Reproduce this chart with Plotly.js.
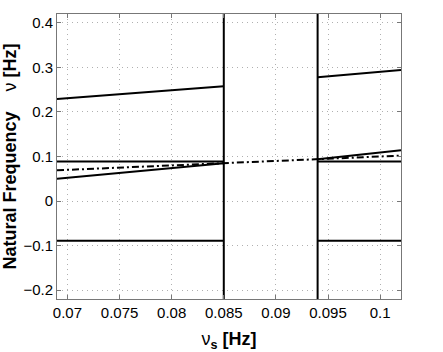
<!DOCTYPE html>
<html>
<head>
<meta charset="utf-8">
<script src="https://cdn.plot.ly/plotly-3.0.1.min.js"></script>
<style>
  html, body { margin: 0; padding: 0; background: #fff; }
  #graph { width: 443px; height: 352px; }
</style>
</head>
<body>
<div id="graph"></div>
<script>
'use strict';

// forcing frequency ranges on each side of the gap
var nuLeft = [0.069, 0.085];
var nuRight = [0.094, 0.102];
var nuAll = [0.069, 0.102];

// natural frequency branches [Hz]
var upperLeft = [0.229, 0.258];
var upperRight = [0.278, 0.294];
var flatPosLeft = [0.089, 0.089];
var flatPosRight = [0.089, 0.089];
var lowerLeft = [0.050, 0.085];
var risingRight = [0.094, 0.114];
var flatNegLeft = [-0.089, -0.089];
var flatNegRight = [-0.089, -0.089];
var diagonal = [0.069, 0.102];

// boundaries of the gap
var gapEdges = [0.085, 0.094];
var yLimits = [-0.22, 0.42];

var solid = {color: 'black', width: 2};

function seg(x, y) {
    return {x: x, y: y, mode: 'lines', type: 'scatter', line: solid, hoverinfo: 'skip'};
}

var data = [
    seg(nuLeft, upperLeft),
    seg(nuRight, upperRight),
    seg(nuLeft, flatPosLeft),
    seg(nuRight, flatPosRight),
    seg(nuLeft, lowerLeft),
    seg(nuRight, risingRight),
    seg(nuLeft, flatNegLeft),
    seg(nuRight, flatNegRight),
    seg([gapEdges[0], gapEdges[0]], yLimits),
    seg([gapEdges[1], gapEdges[1]], yLimits),
    {x: nuAll, y: diagonal, mode: 'lines', type: 'scatter',
     line: {color: 'black', width: 2, dash: '7px,3px,2px,3px'}, hoverinfo: 'skip'}
];

var font = 'Liberation Sans, Arial, sans-serif';

var axisCommon = {
    showline: true,
    linecolor: '#777',
    linewidth: 1,
    mirror: 'ticks',
    ticks: 'inside',
    ticklen: 4,
    tickcolor: '#777',
    showgrid: true,
    gridcolor: '#b0b0b0',
    griddash: '1px,4px',
    gridwidth: 1,
    zeroline: false,
    tickfont: {family: font, size: 15, color: 'black'}
};

var layout = {
    width: 443,
    height: 352,
    showlegend: false,
    paper_bgcolor: 'white',
    plot_bgcolor: 'white',
    margin: {l: 57, r: 42, t: 14, b: 53},
    xaxis: Object.assign({}, axisCommon, {
        range: [0.069, 0.102],
        tickvals: [0.07, 0.075, 0.08, 0.085, 0.09, 0.095, 0.1],
        ticktext: ['0.07', '0.075', '0.08', '0.085', '0.09', '0.095', '0.1'],
        title: {text: 'ν<sub><b>s</b></sub> <b>[Hz]</b>', standoff: 12,
                font: {family: font, size: 18, color: 'black'}}
    }),
    yaxis: Object.assign({}, axisCommon, {
        range: yLimits,
        tickvals: [-0.2, -0.1, 0, 0.1, 0.2, 0.3, 0.4],
        ticktext: ['\u22120.2', '\u22120.1', '0', '0.1', '0.2', '0.3', '0.4'],
        title: {text: '<b>Natural Frequency</b>    ν <b>[Hz]</b>', standoff: 8,
                font: {family: font, size: 18, color: 'black'}}
    })
};

Plotly.newPlot('graph', data, layout, {displayModeBar: false, staticPlot: true});
</script>
</body>
</html>
